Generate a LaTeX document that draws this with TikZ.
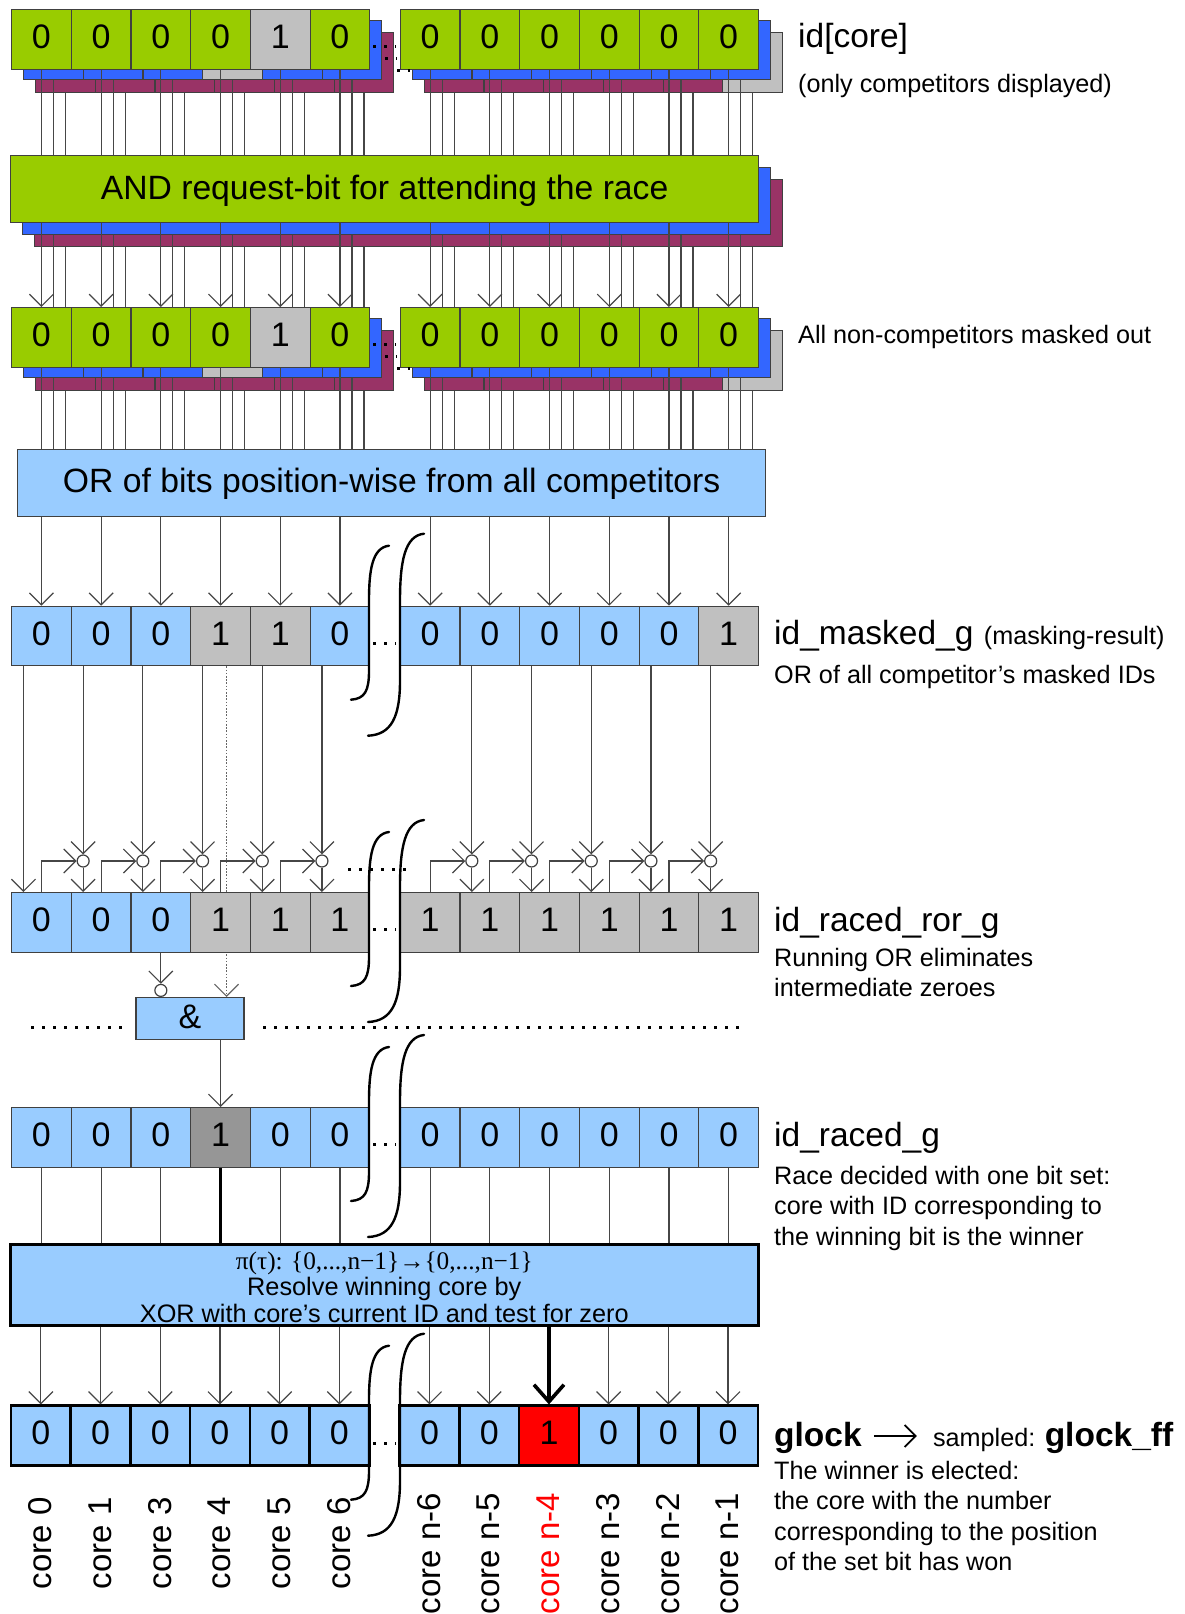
\documentclass[tikz,border=0pt]{standalone}
\usepackage{fontspec}
\setmainfont{Liberation Sans}
\newfontfamily\mapfont{Liberation Serif}
\usepackage{xcolor}
\definecolor{bitgreen}{RGB}{153, 204, 0}
\definecolor{bitsky}{RGB}{153, 204, 255}
\definecolor{bitgrey}{RGB}{192, 192, 192}
\definecolor{bitdark}{RGB}{150, 150, 150}
\definecolor{layerblue}{RGB}{51, 102, 255}
\definecolor{layerplum}{RGB}{153, 51, 102}
\definecolor{wiregrey}{RGB}{70, 70, 70}
\usetikzlibrary{arrows.meta, positioning}

\newcommand{\bitrow}[5][]{%
  \foreach \bit/\tone [count=\idx] in {#5} {
    \pgfmathsetmacro{\xpos}{#3+59.7*(\idx-1)+(\idx>6)*30.5}
    \node [bitcell, fill=\tone, #1] (#2\idx) at (\xpos,#4) {\bit\hspace{3pt}};
  }
}

\begin{document}
\begin{tikzpicture}[x=1pt, y=-1pt,
        bitcell/.style={rectangle, draw=black!75, line width=1.2pt, anchor=north west, inner sep=0pt, minimum width=59.7pt, minimum height=59.5pt, text height=24pt, text depth=5pt, font=\fontsize{34}{38}\selectfont},
        heavycell/.style={draw=black, line width=2.6pt},
        bigbox/.style={rectangle, draw=black!75, line width=1.2pt, anchor=north west, minimum width=748pt, minimum height=67pt, align=center},
        title/.style={anchor=base west, inner sep=0pt, font=\fontsize{33.5}{38}\selectfont},
        boldtitle/.style={title, font=\fontsize{33.5}{38}\selectfont\bfseries},
        note/.style={anchor=base west, inner sep=0pt, font=\fontsize{25.2}{30}\selectfont},
        notes/.style={anchor=north west, inner sep=0pt, align=left, font=\fontsize{25.2}{30.4}\selectfont},
        corename/.style={rotate=90, anchor=west, inner sep=0pt, font=\fontsize{33}{36}\selectfont},
        invert/.style={circle, draw=black!75, fill=white, line width=1.2pt, inner sep=0pt, minimum size=12pt},
        wire/.style={draw=wiregrey, line width=1.2pt},
        barb/.style={-{Straight Barb[length=12pt, width=24pt]}},
        heavywire/.style={draw=black, line width=3.6pt},
        dotwire/.style={draw=black!60, line width=1.2pt, dash pattern=on 1.6pt off 1.6pt},
        dotrun/.style={draw=black, line width=3pt, dash pattern=on 3pt off 8pt},
        breakline/.style={draw=black, line width=2.4pt, line cap=round},
        gapbreak/.pic={
            \draw [breakline] (389,-60) .. controls (372,-58) and (369,-35) .. (369,-5) -- (369,65) .. controls (369,85) and (365,93) .. (351,94);
            \draw [breakline] (424,-72) .. controls (405,-70) and (400,-45) .. (400,-5) -- (400,75) .. controls (400,110) and (392,129) .. (368,130);
        }]

    \useasboundingbox (0,0) rectangle (1184,1614);

    \bitrow{idp}{35}{32}{{}/layerplum,{}/layerplum,{}/layerplum,{}/layerplum,{}/layerplum,{}/layerplum,{}/layerplum,{}/layerplum,{}/layerplum,{}/layerplum,{}/layerplum,{}/bitgrey}
    \bitrow{idb}{23}{19.5}{{}/layerblue,{}/layerblue,{}/layerblue,{}/bitgrey,{}/layerblue,{}/layerblue,{}/layerblue,{}/layerblue,{}/layerblue,{}/layerblue,{}/layerblue,{}/layerblue}
    \bitrow{idg}{11}{9}{0/bitgreen,0/bitgreen,0/bitgreen,0/bitgreen,1/bitgrey,0/bitgreen,0/bitgreen,0/bitgreen,0/bitgreen,0/bitgreen,0/bitgreen,0/bitgreen}

    \node [bigbox, fill=layerplum] (andp) at (34,179) {};
    \node [bigbox, fill=layerblue] (andb) at (22,167) {};
    \node [bigbox, fill=bitgreen, text height=28pt, font=\fontsize{33.7}{36}\selectfont] (andg) at (10,155) {AND request-bit for attending the race};

    \bitrow{mkp}{35}{330}{{}/layerplum,{}/layerplum,{}/layerplum,{}/layerplum,{}/layerplum,{}/layerplum,{}/layerplum,{}/layerplum,{}/layerplum,{}/layerplum,{}/layerplum,{}/bitgrey}
    \bitrow{mkb}{23}{317.5}{{}/layerblue,{}/layerblue,{}/layerblue,{}/bitgrey,{}/layerblue,{}/layerblue,{}/layerblue,{}/layerblue,{}/layerblue,{}/layerblue,{}/layerblue,{}/layerblue}
    \bitrow{mkg}{11}{307}{0/bitgreen,0/bitgreen,0/bitgreen,0/bitgreen,1/bitgrey,0/bitgreen,0/bitgreen,0/bitgreen,0/bitgreen,0/bitgreen,0/bitgreen,0/bitgreen}

    \node [bigbox, fill=bitsky, text height=26.5pt, font=\fontsize{33.7}{36}\selectfont] (orbox) at (17,449) {OR of bits position-wise from all competitors};

    \bitrow{mg}{11}{605.7}{0/bitsky,0/bitsky,0/bitsky,1/bitgrey,1/bitgrey,0/bitsky,0/bitsky,0/bitsky,0/bitsky,0/bitsky,0/bitsky,1/bitgrey}

    \node [rectangle, draw=black!75, fill=bitsky, line width=1.2pt, anchor=north west, minimum width=108pt, minimum height=42pt, text height=24pt, text depth=5pt, inner sep=0pt, font=\fontsize{34}{38}\selectfont] (gate) at (135.3,997) {\&\hspace{2pt}};

    \draw [dotwire, barb] ([xshift=6pt]mg4.south) -- ([xshift=6pt]mg4.south |- gate.north);

    \bitrow{rr}{11}{892}{0/bitsky,0/bitsky,0/bitsky,1/bitgrey,1/bitgrey,1/bitgrey,1/bitgrey,1/bitgrey,1/bitgrey,1/bitgrey,1/bitgrey,1/bitgrey}
    \bitrow{rg}{11}{1107}{0/bitsky,0/bitsky,0/bitsky,1/bitdark,0/bitsky,0/bitsky,0/bitsky,0/bitsky,0/bitsky,0/bitsky,0/bitsky,0/bitsky}

    \node [bigbox, fill=bitsky, heavycell, inner sep=0pt, minimum height=81pt, font=\fontsize{25.3}{26.5}\selectfont] (winbox) at (9,1243) {\rule{0pt}{22pt}{\mapfont π(τ): \{0,...,n−1\}→\{0,...,n−1\}}\\Resolve winning core by\\XOR with core’s current ID and test for zero};

    \bitrow[heavycell]{gk}{9.7}{1404.4}{0/bitsky,0/bitsky,0/bitsky,0/bitsky,0/bitsky,0/bitsky,0/bitsky,0/bitsky,1/red,0/bitsky,0/bitsky,0/bitsky}

    \foreach \k in {1,...,12} {
        \draw [wire] (idg\k.south) -- (idg\k.south |- andg.north);
        \draw [wire] (idb\k.south) -- (idb\k.south |- andg.north);
        \draw [wire] (idp\k.south) -- (idp\k.south |- andg.north);
        \draw [wire, barb] (idg\k.south |- andg.south) -- (mkg\k.north);
        \draw [wire] (idb\k.south |- andb.south) -- (mkb\k.south |- mkg\k.north);
        \draw [wire] (idp\k.south |- andp.south) -- (mkp\k.south |- mkg\k.north);
        \draw [wire] (mkg\k.south) -- (mkg\k.south |- orbox.north);
        \draw [wire] (mkb\k.south) -- (mkb\k.south |- orbox.north);
        \draw [wire] (mkp\k.south) -- (mkp\k.south |- orbox.north);
        \draw [wire, barb] (mg\k.north |- orbox.south) -- (mg\k.north);
    }

    \draw [wire, barb] ([xshift=-18pt]mg1.south) -- ([xshift=-18pt]rr1.north);
    \foreach \k/\prev in {2/1,3/2,4/3,5/4,6/5,8/7,9/8,10/9,11/10,12/11} {
        \node [invert] (jn\k) at ([xshift=-18pt,yshift=31pt]rr\k.north) {};
        \draw [wire, barb] ([xshift=-18pt]mg\k.south) -- (jn\k.north);
        \draw [wire, barb] (jn\k.south) -- ([xshift=-18pt]rr\k.north);
        \draw [wire, barb] (rr\prev.north) |- (jn\k.west);
    }

    \node [invert, anchor=south] (gateinv) at (rr3.south |- gate.north) {};
    \draw [wire, barb] (rr3.south) -- (gateinv.north);
    \draw [wire, barb] (gate.south -| rg4.north) -- (rg4.north);

    \foreach \k in {1,2,3,5,6,7,8,9,10,11,12} {
        \draw [wire] (rg\k.south) -- (rg\k.south |- winbox.north);
    }
    \draw [heavywire] (rg4.south) -- (rg4.south |- winbox.north);

    \foreach \k in {1,2,3,4,5,6,7,8,10,11,12} {
        \draw [wire, barb] (gk\k.north |- winbox.south) -- (gk\k.north);
    }
    \draw [heavywire, -{Straight Barb[length=17pt, width=30pt]}] (gk9.north |- winbox.south) -- (gk9.north);

    \draw [dotrun] (373,46) -- (396,46);
    \draw [dotrun] (385,58) -- (397,58);
    \draw [dotrun] (397,70) -- (410,70);
    \draw [dotrun] (373,344) -- (396,344);
    \draw [dotrun] (385,356) -- (397,356);
    \draw [dotrun] (397,368) -- (410,368);
    \draw [dotrun] (373,643) -- (396,643);
    \draw [dotrun] (373,929) -- (396,929);
    \draw [dotrun] (373,1144) -- (396,1144);
    \draw [dotrun] (373,1443) -- (396,1443);
    \draw [dotrun] (348,869) -- (410,869);
    \draw [dotrun] (31,1027) -- (122,1027);
    \draw [dotrun] (263,1027) -- (740,1027);

    \node [title] (idlabel) at (798,47) {id[core]};
    \node [note] (idnote) at (798,92.7) {(only competitors displayed)};
    \node [note] (masknote) at (798,343.7) {All non-competitors masked out};
    \node [title] (masklabel) at (774,644) {id\_masked\_g};
    \node [note, base right=10pt of masklabel] (maskextra) {(masking-result)};
    \node [note] (masktext) at (774,683) {OR of all competitor’s masked IDs};
    \node [title] (rorlabel) at (774,931) {id\_raced\_ror\_g};
    \node [notes] (rortext) at (774,948) {Running OR eliminates\\intermediate zeroes};
    \node [title] (racedlabel) at (774,1146) {id\_raced\_g};
    \node [notes] (racedtext) at (774,1166) {Race decided with one bit set:\\core with ID corresponding to\\the winning bit is the winner};
    \node [boldtitle] (glock) at (774,1446) {glock};
    \node [note, base right=71pt of glock] (sampled) {sampled:};
    \node [boldtitle, base right=9pt of sampled] (glockff) {glock\_ff};
    \draw [draw=black, line width=1.8pt, -{Straight Barb[length=11pt, width=22pt]}] ([xshift=12pt,yshift=10pt]glock.base east) -- ([xshift=-16pt,yshift=10pt]sampled.base west);
    \node [notes] (glocktext) at (774,1461) {The winner is elected:\\the core with the number\\corresponding to the position\\of the set bit has won};

    \foreach \k/\who in {1/core 0,2/core 1,3/core 3,4/core 4,5/core 5,6/core 6} {
        \node [corename] (name\k) at ([xshift=-0.5pt,yshift=-123pt]gk\k.south) {\who};
    }
    \foreach \k/\who in {7/core n-6,8/core n-5,10/core n-3,11/core n-2,12/core n-1} {
        \node [corename] (name\k) at ([xshift=-0.5pt,yshift=-148pt]gk\k.south) {\who};
    }
    \node [corename, text=red] (name9) at ([xshift=-0.5pt,yshift=-148pt]gk9.south) {core n-4};

    \pic at (0,605.7) {gapbreak};
    \pic at (0,892) {gapbreak};
    \pic at (0,1107) {gapbreak};
    \pic at (0,1405.7) {gapbreak};
\end{tikzpicture}
\end{document}
